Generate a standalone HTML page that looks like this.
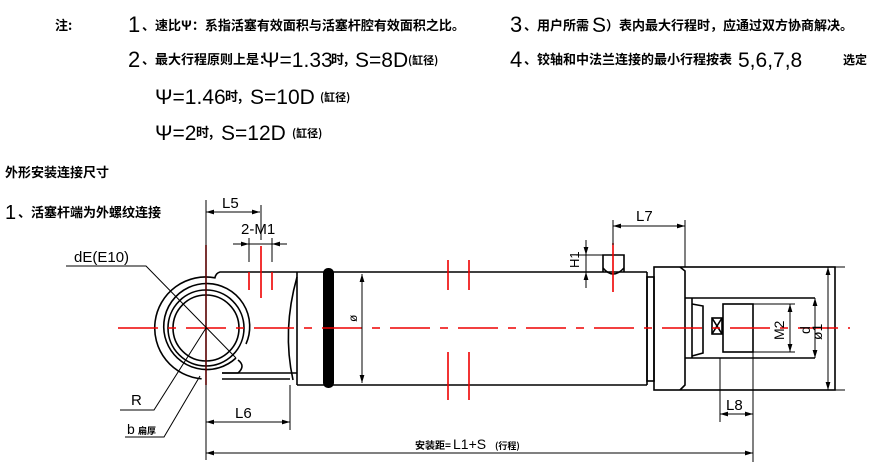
<!DOCTYPE html>
<html><head><meta charset="utf-8"><style>
html,body{margin:0;padding:0;background:#fff;}
svg{display:block;}
text{font-family:"Liberation Sans","Noto Sans CJK SC",sans-serif;fill:#000;}
.cn{font-family:"Noto Sans CJK SC","WenQuanYi Zen Hei",sans-serif;font-weight:bold;}
</style></head><body>
<svg width="870" height="468" viewBox="0 0 870 468" xmlns="http://www.w3.org/2000/svg">
<defs>
<marker id="a" viewBox="0 0 10 6" refX="10" refY="3" markerWidth="8" markerHeight="5" orient="auto-start-reverse"><path d="M0,0L10,3L0,6z" fill="#000"/></marker>
</defs>
<g>
<text x="55" y="30" class="cn" font-size="13">注:</text>
<text x="128" y="32" font-size="22">1</text><text x="142" y="30" class="cn" font-size="13">、速比Ψ：系指活塞有效面积与活塞杆腔有效面积之比。</text>
<text x="128" y="67" font-size="22">2</text><text x="142" y="64" class="cn" font-size="13">、最大行程原则上是：</text>
<text x="262" y="67" font-size="21">Ψ=1.33</text><text x="331" y="64" class="cn" font-size="13">时,</text><text x="355" y="67" font-size="21">S=8D</text><text x="408" y="64" class="cn" font-size="11">(缸径)</text>
<text x="155" y="104" font-size="21">Ψ=1.46</text><text x="225" y="101" class="cn" font-size="13">时,</text><text x="250" y="104" font-size="21">S=10D</text><text x="320" y="101" class="cn" font-size="11">(缸径)</text>
<text x="155" y="140" font-size="21">Ψ=2</text><text x="196" y="137" class="cn" font-size="13">时,</text><text x="221" y="140" font-size="21">S=12D</text><text x="292" y="137" class="cn" font-size="11">(缸径)</text>
<text x="510" y="32" font-size="22">3</text><text x="524" y="30" class="cn" font-size="13">、用户所需</text><text x="592" y="32" font-size="21">S</text><text x="606" y="30" class="cn" font-size="13">）表内最大行程时，应通过双方协商解决。</text>
<text x="510" y="67" font-size="22">4</text><text x="524" y="64" class="cn" font-size="13">、铰轴和中法兰连接的最小行程按表</text><text x="738" y="67" font-size="21">5,6,7,8</text><text x="843" y="64" class="cn" font-size="12">选定</text>
<text x="5" y="177" class="cn" font-size="13">外形安装连接尺寸</text>
<text x="5" y="219" font-size="20">1</text><text x="18" y="217" class="cn" font-size="13">、活塞杆端为外螺纹连接</text>
</g>
<g stroke="#000" stroke-width="1.6" fill="none">
<path d="M201.6,378.8 A51,51 0 1 1 214.9,277.8 Q216,273 220,272 L297,272"/>
<path d="M222,373 L238,373 Q246,366 238,360"/>
<path d="M236,358 A43,43 0 1 1 246,344"/>
<circle cx="206" cy="328" r="38"/>
<circle cx="206" cy="328" r="33"/>
<line x1="222" y1="373" x2="297" y2="373"/>
<line x1="222" y1="379" x2="290" y2="379"/>
<path d="M297,277 Q282,330 293,380"/>
<line x1="297" y1="272" x2="647" y2="272"/>
<line x1="297" y1="385" x2="647" y2="385"/>
<line x1="297" y1="272" x2="297" y2="385"/>
<line x1="647" y1="272" x2="647" y2="385"/>
<rect x="647" y="277" width="7" height="104"/>
<rect x="654" y="267" width="181" height="123"/>
<path d="M680,267 L685,271 L685,385 L680,390"/>
<line x1="692" y1="298" x2="815" y2="298"/>
<line x1="692" y1="358" x2="815" y2="358"/>
<path d="M685,298 L692,298 M685,358 L692,358"/>
<line x1="692" y1="298" x2="692" y2="358"/>
<path d="M692,304 L703,306 L703,353 L692,356"/>
<rect x="712" y="318" width="10" height="16"/><path d="M712,318 L722,334 M722,318 L712,334"/>
<rect x="723" y="304" width="30" height="48"/>
<path d="M603,272 L603,255 L624,255 L624,272"/>
<path d="M603,268 Q613,280 624,268"/>
</g>
<rect x="323" y="268" width="11" height="120" rx="5" fill="#000"/>
<g stroke="#e00" stroke-width="1.6">
<line x1="118" y1="328" x2="850" y2="328" stroke-dasharray="40,10,8,10"/>
<line x1="206" y1="245" x2="206" y2="385"/>
<line x1="261" y1="246" x2="261" y2="298"/>
<line x1="249" y1="272" x2="249" y2="290"/><line x1="272" y1="272" x2="272" y2="290"/>
<line x1="448" y1="260" x2="448" y2="290"/><line x1="469" y1="260" x2="469" y2="290"/>
<line x1="448" y1="352" x2="448" y2="400"/><line x1="469" y1="352" x2="469" y2="400"/>
<line x1="613" y1="243" x2="613" y2="292"/>
</g>
<g stroke="#000" stroke-width="1" fill="none">
<line x1="206" y1="200" x2="206" y2="460"/>
<line x1="206" y1="212" x2="260" y2="212" marker-start="url(#a)" marker-end="url(#a)"/>
<line x1="261" y1="205" x2="261" y2="240"/>
<line x1="249" y1="238" x2="249" y2="262"/><line x1="272" y1="238" x2="272" y2="262"/>
<line x1="233" y1="244" x2="249" y2="244" marker-end="url(#a)"/>
<line x1="287" y1="244" x2="272" y2="244" marker-end="url(#a)"/>
<line x1="249" y1="244" x2="272" y2="244"/>
<line x1="362" y1="274" x2="362" y2="383" marker-start="url(#a)" marker-end="url(#a)"/>
<line x1="290" y1="385" x2="290" y2="430"/>
<line x1="206" y1="422" x2="290" y2="422" marker-start="url(#a)" marker-end="url(#a)"/>
<line x1="206" y1="453" x2="753" y2="453" marker-start="url(#a)" marker-end="url(#a)"/>
<line x1="753" y1="352" x2="753" y2="462"/>
<line x1="720" y1="358" x2="720" y2="422"/>
<line x1="720" y1="414" x2="753" y2="414" marker-start="url(#a)" marker-end="url(#a)"/>
<line x1="613" y1="220" x2="613" y2="245"/>
<line x1="685" y1="220" x2="685" y2="267"/>
<line x1="613" y1="226" x2="685" y2="226" marker-start="url(#a)" marker-end="url(#a)"/>
<line x1="576" y1="255" x2="603" y2="255"/>
<line x1="586" y1="240" x2="586" y2="255" marker-end="url(#a)"/>
<line x1="586" y1="288" x2="586" y2="272" marker-end="url(#a)"/>
<line x1="586" y1="255" x2="586" y2="272"/>
<line x1="753" y1="304" x2="795" y2="304"/><line x1="753" y1="352" x2="795" y2="352"/>
<line x1="790" y1="304" x2="790" y2="352" marker-start="url(#a)" marker-end="url(#a)"/>
<line x1="815" y1="298" x2="815" y2="358" marker-start="url(#a)" marker-end="url(#a)"/>
<line x1="835" y1="267" x2="845" y2="267"/><line x1="835" y1="390" x2="845" y2="390"/>
<line x1="828" y1="267" x2="828" y2="390" marker-start="url(#a)" marker-end="url(#a)"/>
<polyline points="66,266 146,266 236,358"/>
<polyline points="120,410 154,410 206,328"/>
<polyline points="125,437 164,437 200,376"/>
</g>
<g font-size="15">
<text x="222" y="208">L5</text>
<text x="241" y="234">2-M1</text>
<text x="74" y="262">dE(E10)</text>
<text x="131" y="405">R</text>
<text x="127" y="434" font-size="14">b</text><text x="138" y="434" class="cn" font-size="9">扁厚</text>
<text x="235" y="418">L6</text>
<text x="636" y="221">L7</text>
<text x="726" y="410">L8</text>
<text x="0" y="0" transform="translate(357,322) rotate(-90)" font-size="12">ø</text>
<text x="0" y="0" transform="translate(579,268) rotate(-90)" font-size="13">H1</text>
<text x="0" y="0" transform="translate(784,340) rotate(-90)" font-size="14">M2</text>
<text x="0" y="0" transform="translate(810,334) rotate(-90)" font-size="14">d</text>
<text x="0" y="0" transform="translate(822,340) rotate(-90)" font-size="14">ø1</text>
<text x="415" y="449" class="cn" font-size="10">安装距=</text><text x="453" y="449" font-size="14">L1+S</text><text x="495" y="449" class="cn" font-size="9">(行程)</text>
</g>
</svg>
</body></html>
